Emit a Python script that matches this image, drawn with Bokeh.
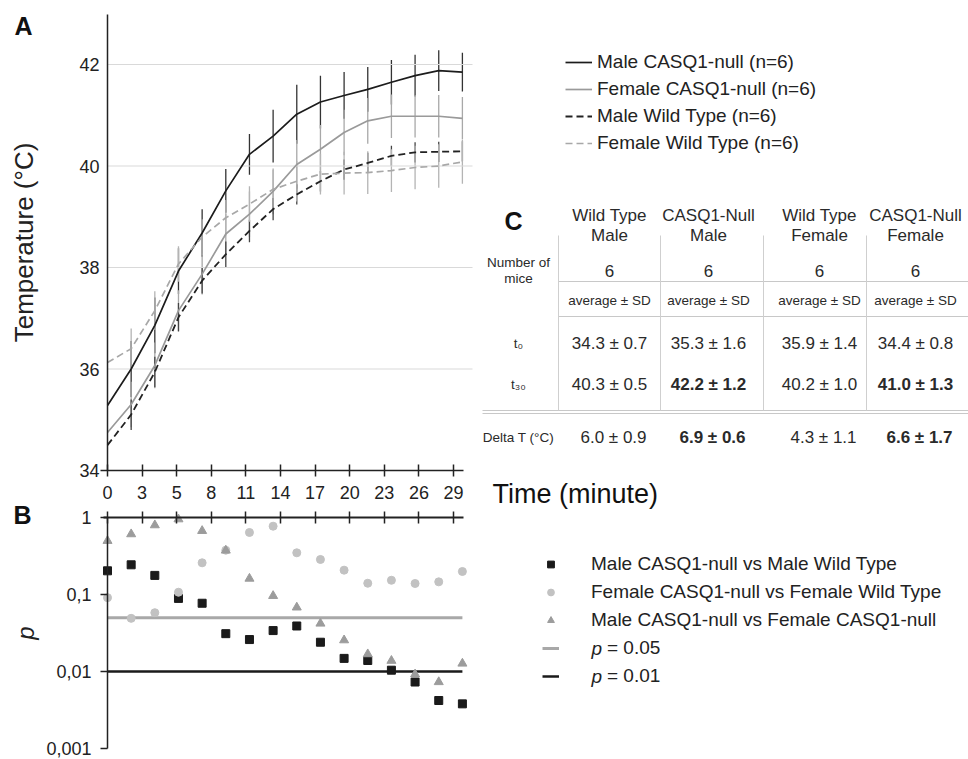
from bokeh.plotting import figure
from bokeh.models import (Range1d, LinearAxis, LogAxis, LogScale, FixedTicker, Whisker,
                          ColumnDataSource, Legend, LegendItem)
from bokeh.core.properties import value
from bokeh.embed import file_html
from bokeh.resources import INLINE

FONT = "Liberation Sans"

# ---------------- data ----------------
TIME = [0, 2, 4, 6, 8, 10, 12, 14, 16, 18, 20, 22, 24, 26, 28, 30]
MALE_NULL = [35.28, 36.00, 36.86, 37.93, 38.68, 39.51, 40.23, 40.59, 41.02, 41.26, 41.39, 41.51, 41.65, 41.78, 41.88, 41.85]
FEMALE_NULL = [34.75, 35.30, 36.07, 37.15, 37.87, 38.66, 39.05, 39.50, 40.03, 40.33, 40.66, 40.89, 40.98, 40.98, 40.98, 40.94]
MALE_WT = [34.50, 35.10, 35.94, 37.02, 37.74, 38.26, 38.72, 39.15, 39.44, 39.70, 39.93, 40.06, 40.20, 40.27, 40.28, 40.29]
FEMALE_WT = [36.13, 36.40, 37.15, 38.07, 38.60, 38.98, 39.25, 39.54, 39.70, 39.84, 39.86, 39.87, 39.91, 39.97, 40.00, 40.08]

ERR_TIME = TIME[1:]
MALE_NULL_ERR = [0.55, 0.55, 0.45, 0.47, 0.43, 0.40, 0.52, 0.58, 0.52, 0.46, 0.44, 0.44, 0.41, 0.40, 0.38]
FEMALE_NULL_ERR = [0.45, 0.45, 0.40, 0.40, 0.40, 0.45, 0.45, 0.48, 0.48, 0.45, 0.45, 0.43, 0.42, 0.42, 0.42]
MALE_WT_ERR = [0.30, 0.30, 0.28, 0.25, 0.25, 0.22, 0.22, 0.20, 0.20, 0.20, 0.20, 0.20, 0.20, 0.20, 0.20]
FEMALE_WT_ERR = [0.40, 0.38, 0.35, 0.35, 0.35, 0.35, 0.38, 0.40, 0.40, 0.42, 0.42, 0.42, 0.43, 0.43, 0.43]

P_MALE = [0.203, 0.243, 0.177, 0.089, 0.077, 0.031, 0.026, 0.034, 0.039, 0.024, 0.0148, 0.0139, 0.0104, 0.0073, 0.0042, 0.0038]
P_FEMALE = [0.091, 0.049, 0.058, 0.107, 0.258, 0.376, 0.639, 0.771, 0.348, 0.285, 0.207, 0.140, 0.153, 0.139, 0.146, 0.199]
P_SEX = [0.498, 0.608, 0.795, 0.95, 0.671, 0.373, 0.161, 0.096, 0.068, 0.042, 0.0255, 0.0168, 0.0138, 0.0092, 0.0073, 0.0127]
P_LINES = [0.05, 0.01]

A_YTICKS = [34, 36, 38, 40, 42]
X_TICK_LABELS = ["0", "3", "5", "8", "11", "14", "17", "20", "23", "26", "29"]
P_TICKS = [0.001, 0.01, 0.1, 1]
P_TICK_LABELS = ["0,001", "0,01", "0,1", "1"]

TABLE_HEAD1 = ["Wild Type", "CASQ1-Null", "Wild Type", "CASQ1-Null"]
TABLE_HEAD2 = ["Male", "Male", "Female", "Female"]
N_MICE = [6, 6, 6, 6]
T0_MEAN = [34.3, 35.3, 35.9, 34.4]
T0_SD = [0.7, 1.6, 1.4, 0.8]
T30_MEAN = [40.3, 42.2, 40.2, 41.0]
T30_SD = [0.5, 1.2, 1.0, 1.3]
DT_MEAN = [6.0, 6.9, 4.3, 6.6]
DT_SD = [0.9, 0.6, 1.1, 1.7]
IS_NULL = [False, True, False, True]

# ---------------- layout (page pixels) ----------------
W, H = 968, 759
OFF = 0
X0_PX, PX_PER_MIN = 107.0, 11.83
A_Y0_PX, A_PX_PER_DEG = 470.0, 50.75
B_Y0_PX, B_PX_PER_DEC = 517.0, 77.0
XTICK_STEP = 34.6 / PX_PER_MIN
XTICK_POS = [k * XTICK_STEP for k in range(len(X_TICK_LABELS))]


def fx(px):
    return (px - X0_PX) / PX_PER_MIN


def fT(py):
    return 34 + (A_Y0_PX - py) / A_PX_PER_DEG


def fP(py):
    return 10 ** ((B_Y0_PX - py) / B_PX_PER_DEC)


p = figure(width=W, height=H, x_range=Range1d(fx(OFF), fx(OFF + W)),
           y_range=Range1d(fT(OFF + H), fT(OFF)),
           extra_y_ranges={"p": Range1d(fP(OFF + H), fP(OFF))},
           extra_y_scales={"p": LogScale()},
           x_axis_type=None, y_axis_type=None, min_border=0,
           toolbar_location=None, output_backend="svg",
           outline_line_color=None, background_fill_color="white",
           border_fill_color="white")

AX = "#222222"

# ---- Panel A axes ----
ya = LinearAxis(fixed_location=0, bounds=(34, fT(14)), ticker=FixedTicker(ticks=A_YTICKS),
                major_tick_in=0, major_tick_out=0, minor_tick_in=0, minor_tick_out=0,
                axis_line_color=AX, axis_line_width=1.5,
                major_label_standoff=8, major_label_text_font=FONT,
                major_label_text_font_size="18px", major_label_text_color=AX,
                axis_label="Temperature (°C)", axis_label_text_font=FONT,
                axis_label_text_font_size="26px", axis_label_text_font_style="normal",
                axis_label_text_color=AX, axis_label_standoff=37)
p.add_layout(ya, "left")

xa = LinearAxis(fixed_location=34, bounds=(fx(100), fx(463)), ticker=FixedTicker(ticks=XTICK_POS),
                major_label_overrides=dict(zip(XTICK_POS, X_TICK_LABELS)),
                major_tick_in=6, major_tick_out=6, minor_tick_in=0, minor_tick_out=0,
                major_tick_line_color=AX, major_tick_line_width=1.5,
                axis_line_color=AX, axis_line_width=1.5,
                major_label_standoff=9, major_label_text_font=FONT,
                major_label_text_font_size="18px", major_label_text_color=AX)
p.add_layout(xa, "below")

# gridlines of panel A
p.segment(x0=0, x1=fx(472), y0=A_YTICKS[1:], y1=A_YTICKS[1:], line_color="#d9d9d9", line_width=1)

# ---- Panel B axes ----
yb = LogAxis(y_range_name="p", fixed_location=0, bounds=(P_TICKS[0], P_TICKS[-1]),
             ticker=FixedTicker(ticks=P_TICKS),
             major_label_overrides=dict(zip(P_TICKS, P_TICK_LABELS)),
             major_tick_in=0, major_tick_out=7, minor_tick_in=0, minor_tick_out=0,
             major_tick_line_color=AX, major_tick_line_width=1.5,
             axis_line_color=AX, axis_line_width=1.5,
             major_label_standoff=9, major_label_text_font=FONT,
             major_label_text_font_size="18px", major_label_text_color=AX,
             axis_label="p", axis_label_text_font=FONT, axis_label_text_font_size="24px",
             axis_label_text_font_style="italic", axis_label_text_color=AX,
             axis_label_standoff=4)
p.add_layout(yb, "left")

xb = LinearAxis(y_range_name="p", fixed_location=1, bounds=(fx(103), fx(463)),
                ticker=FixedTicker(ticks=XTICK_POS),
                major_label_overrides={t: "" for t in XTICK_POS},
                major_tick_in=6, major_tick_out=6, minor_tick_in=0, minor_tick_out=0,
                major_tick_line_color=AX, major_tick_line_width=1.5,
                axis_line_color=AX, axis_line_width=1.8)
p.add_layout(xb, "above")

# ---- Panel A series ----
series = [
    ("Male CASQ1-null (n=6)", MALE_NULL, MALE_NULL_ERR, "#1c1c1c", "solid", 1.7, "#333333"),
    ("Female CASQ1-null (n=6)", FEMALE_NULL, FEMALE_NULL_ERR, "#9a9a9a", "solid", 1.7, "#a8a8a8"),
    ("Male Wild Type (n=6)", MALE_WT, MALE_WT_ERR, "#222222", "7 4", 1.8, "#444444"),
    ("Female Wild Type (n=6)", FEMALE_WT, FEMALE_WT_ERR, "#a8a8a8", "7 4", 1.7, "#b4b4b4"),
]
items_a = []
for label, vals, errs, col, dash, lw, ecol in series:
    base = vals[1:]
    src = ColumnDataSource(dict(x=ERR_TIME, upper=[v + e for v, e in zip(base, errs)],
                                lower=[v - e for v, e in zip(base, errs)]))
    p.add_layout(Whisker(base="x", upper="upper", lower="lower", source=src, dimension="height",
                         line_color=ecol, line_width=1.3, upper_head=None, lower_head=None))
for label, vals, errs, col, dash, lw, ecol in series:
    r = p.line(TIME, vals, line_color=col, line_width=lw, line_dash=dash)
    items_a.append(LegendItem(label=label, renderers=[r]))

leg_a = Legend(items=items_a, location=(565 - OFF, OFF + H - 154), orientation="vertical",
               glyph_width=27, glyph_height=22, label_height=22, spacing=5, padding=0, margin=0,
               label_standoff=5, border_line_color=None, background_fill_alpha=0,
               label_text_font=FONT, label_text_font_size="19px", label_text_color=AX)
p.add_layout(leg_a)

# ---- Panel B series ----
thr_style = [("#a8a8a8", 3.0), ("#1a1a1a", 2.5)]
thr_r = []
for pv, (c, w) in zip(P_LINES, thr_style):
    thr_r.append(p.segment(x0=TIME[0], x1=TIME[-1], y0=pv, y1=pv, y_range_name="p",
                           line_color=c, line_width=w))

r_sq = p.scatter(TIME, P_MALE, marker="square", size=8, fill_color="#1a1a1a", line_color="#1a1a1a",
                 y_range_name="p")
r_ci = p.scatter(TIME, P_FEMALE, marker="circle", size=8, fill_color="#c2c2c2", line_color="#c2c2c2",
                 y_range_name="p")
r_tr = p.scatter(TIME, P_SEX, marker="triangle", size=9, fill_color="#9c9c9c", line_color="#9c9c9c",
                 y_range_name="p")

leg_b1 = Legend(items=[LegendItem(label="Male CASQ1-null vs Male Wild Type", renderers=[r_sq]),
                       LegendItem(label="Female CASQ1-null vs Female Wild Type", renderers=[r_ci]),
                       LegendItem(label="Male CASQ1-null vs Female CASQ1-null", renderers=[r_tr])],
                location=(542 - OFF, OFF + H - 631), orientation="vertical",
                glyph_width=17, glyph_height=22, label_height=22, spacing=6, padding=0, margin=0,
                label_standoff=32, border_line_color=None, background_fill_alpha=0,
                label_text_font=FONT, label_text_font_size="19px", label_text_color=AX)
p.add_layout(leg_b1)

leg_b2 = Legend(items=[LegendItem(label="= 0.05", renderers=[thr_r[0]]),
                       LegendItem(label="= 0.01", renderers=[thr_r[1]])],
                location=(542 - OFF, OFF + H - 687), orientation="vertical",
                glyph_width=17, glyph_height=22, label_height=22, spacing=6, padding=0, margin=0,
                label_standoff=48, border_line_color=None, background_fill_alpha=0,
                label_text_font=FONT, label_text_font_size="19px", label_text_color=AX)
p.add_layout(leg_b2)

p.text(x=[fx(591), fx(591)], y=[fT(648), fT(676)], text=["p", "p"], text_font=value(FONT),
       text_font_size="19px", text_font_style="italic", text_color=AX,
       text_align="left", text_baseline="middle")

# ---- panel letters and axis title ----
p.text(x=[fx(23), fx(22), fx(513)], y=[fT(25), fT(514), fT(220)], text=["A", "B", "C"],
       text_font=value(FONT), text_font_size="25px", text_font_style="bold", text_color="#111111",
       text_align="center", text_baseline="middle")
p.text(x=[fx(492)], y=[fT(493)], text=["Time (minute)"], text_font=value(FONT),
       text_font_size="27px", text_color="#111111", text_align="left", text_baseline="middle")

# ---- Panel C table ----
COL_X = [609, 708, 819, 915]
tx, ty, tt, ts, tst = [], [], [], [], []


def add(xpx, ypx, text, size, style="normal"):
    tx.append(fx(xpx)); ty.append(fT(ypx)); tt.append(text); ts.append(size); tst.append(style)


for i, cx in enumerate(COL_X):
    add(cx, 215, TABLE_HEAD1[i], "17px")
    add(cx, 235, TABLE_HEAD2[i], "17px")
    add(cx, 270, str(N_MICE[i]), "17px")
    add(cx, 300, "average ± SD", "13.5px")
    add(cx, 343, f"{T0_MEAN[i]:.1f} ± {T0_SD[i]:.1f}", "17px")
    add(cx, 384, f"{T30_MEAN[i]:.1f} ± {T30_SD[i]:.1f}", "17px", "bold" if IS_NULL[i] else "normal")
    add(cx + 4, 437, f"{DT_MEAN[i]:.1f} ± {DT_SD[i]:.1f}", "17px", "bold" if IS_NULL[i] else "normal")
add(518, 262, "Number of", "13.5px")
add(518, 278, "mice", "13.5px")
add(518, 343, "t₀", "13.5px")
add(518, 384, "t₃₀", "13.5px")
add(518, 437, "Delta T (°C)", "13.5px")

tsrc = ColumnDataSource(dict(x=tx, y=ty, text=tt, size=ts, style=tst))
p.text(x="x", y="y", text="text", source=tsrc, text_font=value(FONT), text_font_size="size",
       text_font_style="style", text_color="#2a2a2a", text_align="center", text_baseline="middle")

# table rules
hx0 = [fx(558), fx(558), fx(482), fx(482)]
hx1 = [fx(968)] * 4
hy = [fT(281), fT(316), fT(410), fT(413)]
p.segment(x0=hx0, x1=hx1, y0=hy, y1=hy, line_color="#c8c8c8", line_width=1)
vx = [fx(558), fx(660), fx(763), fx(866)]
p.segment(x0=vx, x1=vx, y0=[fT(235)] * 4, y1=[fT(410)] * 4, line_color="#cfcfcf", line_width=1)

open("out.html", "w").write(file_html(p, INLINE))
